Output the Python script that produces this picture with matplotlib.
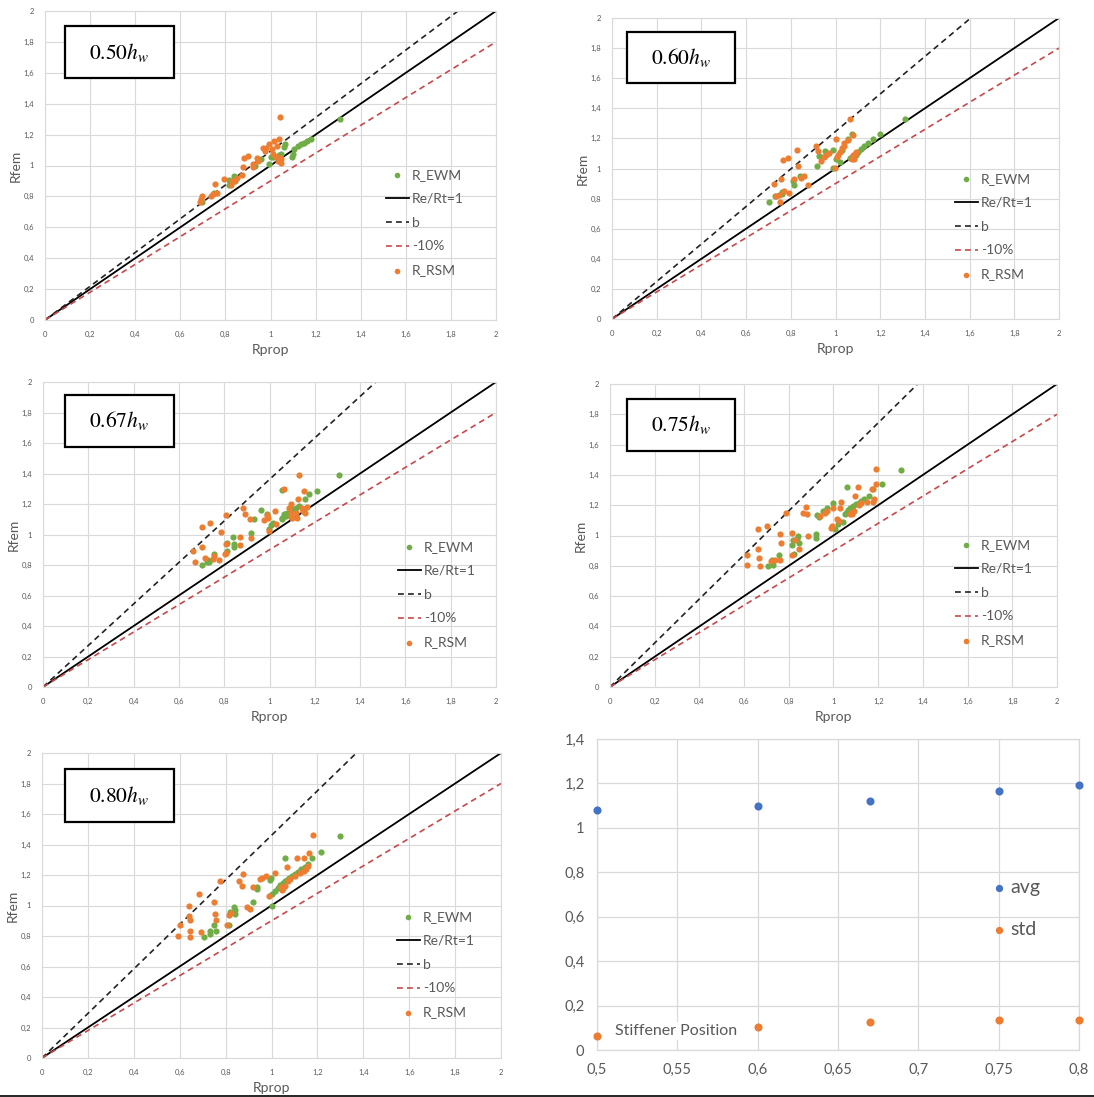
import matplotlib
matplotlib.use("Agg")
import matplotlib.pyplot as plt
from matplotlib.patches import Rectangle
from matplotlib.lines import Line2D

plt.rcParams['font.family'] = ['Lato', 'DejaVu Sans']
plt.rcParams['mathtext.fontset'] = 'stix'

W, H = 1094, 1097

# ---------------- data ----------------
panel_labels = [r'$0.50h_w$', r'$0.60h_w$', r'$0.67h_w$', r'$0.75h_w$', r'$0.80h_w$']
b_slopes = [1.092, 1.246, 1.361, 1.453, 1.46]

ewm_x_50 = [1.309, 1.181, 1.164, 1.149, 1.135, 1.120, 1.105, 1.098, 1.095, 1.065, 1.062, 1.047, 1.036, 1.013, 1.004,
            0.992, 0.957, 0.843, 0.836, 0.815, 0.815, 0.841, 0.749, 0.698, 0.930]
ewm_y_50 = [1.304, 1.170, 1.159, 1.148, 1.138, 1.127, 1.105, 1.072, 1.058, 1.138, 1.120, 1.072, 1.067, 1.056, 1.055,
            1.011, 1.039, 0.927, 0.930, 0.908, 0.876, 0.897, 0.821, 0.766, 0.995]
rsm_x_50 = [1.041, 1.039, 1.015, 1.030, 0.992, 0.982, 0.967, 0.975, 1.005, 1.011, 1.025, 1.040, 1.033, 1.047, 1.045,
            0.902, 0.883, 0.938, 0.945, 0.924, 0.924, 0.880, 0.873, 0.851, 0.829, 0.826, 0.793, 0.756, 0.764, 0.745,
            0.698, 0.690, 0.687, 0.735, 0.840]
rsm_y_50 = [1.312, 1.170, 1.159, 1.127, 1.138, 1.116, 1.116, 1.094, 1.105, 1.072, 1.055, 1.050, 1.028, 1.017, 1.040,
            1.061, 1.050, 1.046, 1.030, 1.007, 0.990, 0.991, 0.937, 0.919, 0.897, 0.871, 0.915, 0.880, 0.821, 0.815,
            0.800, 0.785, 0.762, 0.800, 0.900]

ewm_x_60 = [1.310, 1.201, 1.169, 1.147, 1.126, 1.116, 1.100, 1.090, 1.076, 1.065, 1.076, 1.055, 1.030, 0.990, 1.000,
            0.954, 0.933, 0.925, 0.919, 0.987, 0.840, 0.811, 0.816, 0.759, 0.730, 0.701, 1.020, 0.760]
ewm_y_60 = [1.329, 1.227, 1.198, 1.171, 1.149, 1.127, 1.110, 1.093, 1.076, 1.070, 1.227, 1.193, 1.120, 1.122, 1.060,
            1.116, 1.076, 1.080, 1.016, 1.004, 0.949, 0.916, 0.893, 0.844, 0.816, 0.778, 1.045, 0.830]
rsm_x_60 = [1.064, 1.004, 1.036, 1.030, 1.040, 1.011, 1.005, 1.020, 1.080, 1.085, 1.085, 1.075, 1.090, 1.077, 0.911,
            0.921, 0.959, 0.969, 0.947, 0.936, 0.997, 0.826, 0.787, 0.766, 0.830, 0.859, 0.847, 0.816, 0.876, 0.754,
            0.723, 0.790, 0.770, 0.747, 0.735, 0.750, 1.055, 1.090]
rsm_y_60 = [1.331, 1.198, 1.171, 1.138, 1.150, 1.093, 1.075, 1.110, 1.093, 1.076, 1.060, 1.065, 1.100, 1.225, 1.149,
            1.116, 1.093, 1.100, 1.076, 1.049, 1.004, 1.124, 1.071, 1.056, 1.016, 0.949, 0.938, 0.927, 0.893, 0.933,
            0.898, 0.838, 0.850, 0.822, 0.815, 0.778, 1.190, 1.110]

ewm_x_67 = [1.307, 1.211, 1.176, 1.157, 1.129, 1.115, 1.108, 1.100, 1.093, 1.086, 1.079, 1.071, 1.064, 1.057, 1.055,
            0.964, 0.990, 1.014, 1.007, 0.997, 0.933, 0.919, 0.840, 0.811, 0.843, 0.843, 0.814, 0.753, 0.729, 0.723,
            0.734, 0.704, 1.057]
ewm_y_67 = [1.389, 1.283, 1.264, 1.231, 1.187, 1.176, 1.154, 1.165, 1.143, 1.132, 1.143, 1.121, 1.132, 1.110, 1.100,
            1.160, 1.132, 1.077, 1.060, 1.033, 1.099, 1.011, 0.982, 0.945, 0.935, 0.916, 0.895, 0.873, 0.835, 0.820,
            0.818, 0.802, 1.290]
rsm_x_67 = [1.129, 1.064, 1.154, 1.126, 1.096, 1.086, 1.093, 1.115, 1.143, 1.150, 1.157, 1.164, 1.150, 1.100, 1.093,
            1.121, 0.881, 0.890, 0.915, 0.976, 0.993, 0.990, 1.024, 1.030, 0.996, 0.809, 0.736, 0.704, 0.786, 0.871,
            0.807, 0.871, 0.810, 0.805, 0.776, 0.750, 0.755, 0.700, 0.661, 0.671, 0.715, 0.920]
rsm_y_67 = [1.389, 1.297, 1.286, 1.231, 1.202, 1.176, 1.143, 1.140, 1.176, 1.154, 1.143, 1.180, 1.165, 1.110, 1.115,
            1.110, 1.171, 1.132, 1.099, 1.092, 1.110, 1.125, 1.154, 1.068, 1.026, 1.125, 1.077, 1.048, 1.015, 0.982,
            0.940, 0.934, 0.879, 0.870, 0.831, 0.840, 0.862, 0.916, 0.890, 0.818, 0.845, 0.980]

ewm_x_75 = [1.301, 1.215, 1.176, 1.157, 1.136, 1.124, 1.112, 1.100, 1.086, 1.075, 1.064, 1.057, 1.050, 1.060, 0.997,
            0.971, 0.955, 1.043, 1.021, 1.007, 0.928, 0.935, 0.920, 0.922, 0.841, 0.838, 0.844, 0.816, 0.820, 0.825,
            0.755, 0.726, 0.728, 0.705]
ewm_y_75 = [1.434, 1.338, 1.305, 1.261, 1.239, 1.228, 1.217, 1.206, 1.195, 1.180, 1.166, 1.150, 1.144, 1.321, 1.212,
            1.179, 1.160, 1.091, 1.073, 1.046, 1.135, 1.120, 1.011, 0.985, 0.996, 0.975, 0.951, 0.940, 0.970, 0.880,
            0.874, 0.841, 0.803, 0.796]
rsm_x_75 = [1.190, 1.191, 1.172, 1.109, 1.094, 1.179, 1.176, 1.115, 1.080, 1.085, 1.072, 1.092, 1.035, 1.028, 0.997,
            0.971, 0.960, 0.940, 0.877, 0.863, 0.882, 0.787, 1.014, 1.025, 0.988, 0.995, 0.884, 0.762, 0.766, 0.813,
            0.827, 0.846, 0.816, 0.761, 0.701, 0.662, 0.662, 0.614, 0.611, 0.666, 0.672, 0.720, 0.738, 1.125, 1.150]
rsm_y_75 = [1.438, 1.339, 1.305, 1.319, 1.262, 1.242, 1.220, 1.200, 1.150, 1.145, 1.140, 1.160, 1.221, 1.184, 1.184,
            1.161, 1.150, 1.130, 1.188, 1.150, 1.139, 1.146, 1.111, 1.095, 1.051, 1.060, 0.996, 1.011, 0.951, 1.018,
            0.970, 0.914, 0.874, 0.837, 1.066, 1.044, 0.914, 0.874, 0.803, 0.852, 0.796, 0.830, 0.841, 1.215, 1.220]

ewm_x_80 = [1.300, 1.217, 1.175, 1.060, 1.158, 1.144, 1.130, 1.116, 1.102, 1.090, 1.077, 1.067, 1.057, 1.048, 1.039,
            1.027, 1.015, 1.004, 0.997, 0.993, 0.937, 0.937, 0.920, 1.001, 0.838, 0.840, 0.843, 0.818, 0.815, 0.751,
            0.730, 0.730, 0.707, 0.760]
ewm_y_80 = [1.459, 1.354, 1.310, 1.310, 1.270, 1.250, 1.237, 1.222, 1.209, 1.195, 1.182, 1.170, 1.160, 1.150, 1.132,
            1.115, 1.095, 1.077, 1.182, 1.165, 1.121, 1.105, 1.022, 0.996, 0.989, 0.970, 0.941, 0.955, 0.875, 0.870,
            0.835, 0.815, 0.796, 0.830]
rsm_x_80 = [1.183, 1.165, 1.140, 1.113, 1.067, 1.158, 1.150, 1.141, 1.125, 1.102, 1.080, 1.070, 1.060, 1.050, 1.045,
            1.040, 1.014, 0.976, 0.959, 0.950, 0.920, 0.875, 0.860, 0.870, 0.777, 0.990, 0.892, 0.906, 0.822, 0.815,
            0.808, 0.749, 0.752, 0.756, 0.684, 0.639, 0.643, 0.600, 0.594, 0.646, 0.646, 0.693, 0.640]
rsm_y_80 = [1.462, 1.347, 1.310, 1.310, 1.255, 1.259, 1.240, 1.226, 1.215, 1.193, 1.175, 1.160, 1.130, 1.115, 1.100,
            1.120, 1.215, 1.193, 1.182, 1.175, 1.121, 1.209, 1.160, 1.127, 1.160, 1.062, 0.989, 0.974, 0.952, 0.935,
            0.875, 1.022, 0.941, 0.908, 1.077, 1.000, 0.908, 0.875, 0.802, 0.831, 0.791, 0.826, 0.930]

ewm_x = [ewm_x_50, ewm_x_60, ewm_x_67, ewm_x_75, ewm_x_80]
ewm_y = [ewm_y_50, ewm_y_60, ewm_y_67, ewm_y_75, ewm_y_80]
rsm_x = [rsm_x_50, rsm_x_60, rsm_x_67, rsm_x_75, rsm_x_80]
rsm_y = [rsm_y_50, rsm_y_60, rsm_y_67, rsm_y_75, rsm_y_80]

ticks_main = [0, 0.2, 0.4, 0.6, 0.8, 1.0, 1.2, 1.4, 1.6, 1.8, 2.0]
ticklabels_main = ['0', '0,2', '0,4', '0,6', '0,8', '1', '1,2', '1,4', '1,6', '1,8', '2']

stiff_pos = [0.5, 0.6, 0.67, 0.75, 0.8]
avg_vals = [1.08, 1.098, 1.12, 1.167, 1.191]
std_vals = [0.062, 0.102, 0.126, 0.137, 0.137]
x6_ticks = [0.5, 0.55, 0.6, 0.65, 0.7, 0.75, 0.8]
x6_labels = ['0,5', '0,55', '0,6', '0,65', '0,7', '0,75', '0,8']
y6_ticks = [0, 0.2, 0.4, 0.6, 0.8, 1.0, 1.2, 1.4]
y6_labels = ['0', '0,2', '0,4', '0,6', '0,8', '1', '1,2', '1,4']

# ---------------- layout (pixels) ----------------
axes_px = [(45, 496, 11, 320), (612, 1059, 18, 319), (43, 496, 382, 687),
           (610, 1057, 384, 687), (42, 501, 753, 1058)]
box_px = [(65, 174, 26, 78), (627, 735, 32, 83), (65, 174, 395, 447),
          (627, 735, 399, 451), (65, 174, 769, 822)]
leg_px = [(386, 169), (955, 173), (398, 541), (955, 539), (397, 911)]
ax6_px = (597, 1079, 739, 1050)

GREEN = '#70AD47'
ORANGE = '#ED7D31'
BLUE = '#4472C4'
RED = '#C9474A'
GRID = '#D9D9D9'
TXT = '#595959'

fig = plt.figure(figsize=(W / 100, H / 100), dpi=100)


def add_ax(l, r, t, b):
    return fig.add_axes([l / W, 1 - b / H, (r - l) / W, (b - t) / H])


for i in range(5):
    l, r, t, b = axes_px[i]
    ax = add_ax(l, r, t, b)
    ax.set_xlim(0, 2)
    ax.set_ylim(0, 2)
    ax.set_xticks(ticks_main)
    ax.set_xticklabels(ticklabels_main)
    ax.set_yticks(ticks_main)
    ax.set_yticklabels(ticklabels_main)
    ax.grid(True, color=GRID, lw=0.8)
    ax.set_axisbelow(True)
    for s in ax.spines.values():
        s.set_color(GRID)
        s.set_linewidth(0.8)
    ax.tick_params(length=0, labelsize=5.5, colors=TXT, pad=8)
    ax.set_xlabel('Rprop', fontsize=10, color=TXT, labelpad=4)
    ax.set_ylabel('Rfem', fontsize=10, color=TXT, labelpad=1)

    h1 = ax.scatter(ewm_x[i], ewm_y[i], s=20, color=GREEN, lw=0, zorder=3, label='R_EWM')
    h2, = ax.plot([0, 2], [0, 2], color='black', lw=1.3, zorder=2, label='Re/Rt=1')
    sl = b_slopes[i]
    h3, = ax.plot([0, 2 / sl], [0, 2], color='#222222', lw=1.2, ls=(0, (3.5, 2.5)), zorder=2, label='b')
    h4, = ax.plot([0, 2], [0, 1.8], color=RED, lw=1.2, ls=(0, (3.5, 2.5)), zorder=2, label='-10%')
    h5 = ax.scatter(rsm_x[i], rsm_y[i], s=20, color=ORANGE, lw=0, zorder=4, label='R_RSM')

    lx, ly = leg_px[i]
    ax_w = r - l
    ax_h = b - t
    ax.legend(handles=[h1, h2, h3, h4, h5], loc='upper left',
              bbox_to_anchor=((lx - l) / ax_w, 1 - (ly - t) / ax_h),
              frameon=False, fontsize=10, labelcolor=TXT, borderpad=0,
              borderaxespad=0, handlelength=1.65, handletextpad=0.2,
              labelspacing=0.85, markerscale=0.9)

    bl, br, bt, bb = box_px[i]
    fig.add_artist(Rectangle((bl / W, 1 - bb / H), (br - bl) / W, (bb - bt) / H,
                             transform=fig.transFigure, fill=True, facecolor='white',
                             edgecolor='black', lw=1.6, zorder=5))
    fig.text((bl + br) / 2 / W, 1 - (bt + bb) / 2 / H, panel_labels[i], fontsize=15.5,
             ha='center', va='center', zorder=6)

# ---------------- summary panel ----------------
l, r, t, b = ax6_px
ax6 = add_ax(l, r, t, b)
ax6.set_xlim(0.5, 0.8)
ax6.set_ylim(0, 1.4)
ax6.set_xticks(x6_ticks)
ax6.set_xticklabels(x6_labels)
ax6.set_yticks(y6_ticks)
ax6.set_yticklabels(y6_labels)
ax6.grid(True, color=GRID, lw=0.9)
ax6.set_axisbelow(True)
for s in ax6.spines.values():
    s.set_color(GRID)
    s.set_linewidth(0.9)
ax6.tick_params(length=0, labelsize=10.5, colors=TXT, pad=9)
a1 = ax6.scatter(stiff_pos, avg_vals, s=34, color=BLUE, lw=0, zorder=3, clip_on=False, label='avg')
a2 = ax6.scatter(stiff_pos, std_vals, s=34, color=ORANGE, lw=0, zorder=3, clip_on=False, label='std')
ax6.text(0.511, 0.086, 'Stiffener Position', fontsize=11.5, color=TXT, ha='left', va='center',
         bbox=dict(facecolor='white', edgecolor='none', pad=1.5), zorder=2)
ax6.legend(handles=[a1, a2], loc='upper left',
           bbox_to_anchor=((994 - l) / (r - l), 1 - (879 - t) / (b - t)),
           frameon=False, fontsize=14, labelcolor=TXT, borderpad=0, borderaxespad=0,
           handlelength=0.55, handletextpad=0.3, labelspacing=1.3, markerscale=0.9)

# bottom border line
fig.add_artist(Line2D([0, 1], [0.6 / H, 0.6 / H], transform=fig.transFigure, color='black', lw=1.2))

fig.savefig('out.png', dpi=100, facecolor='white')
